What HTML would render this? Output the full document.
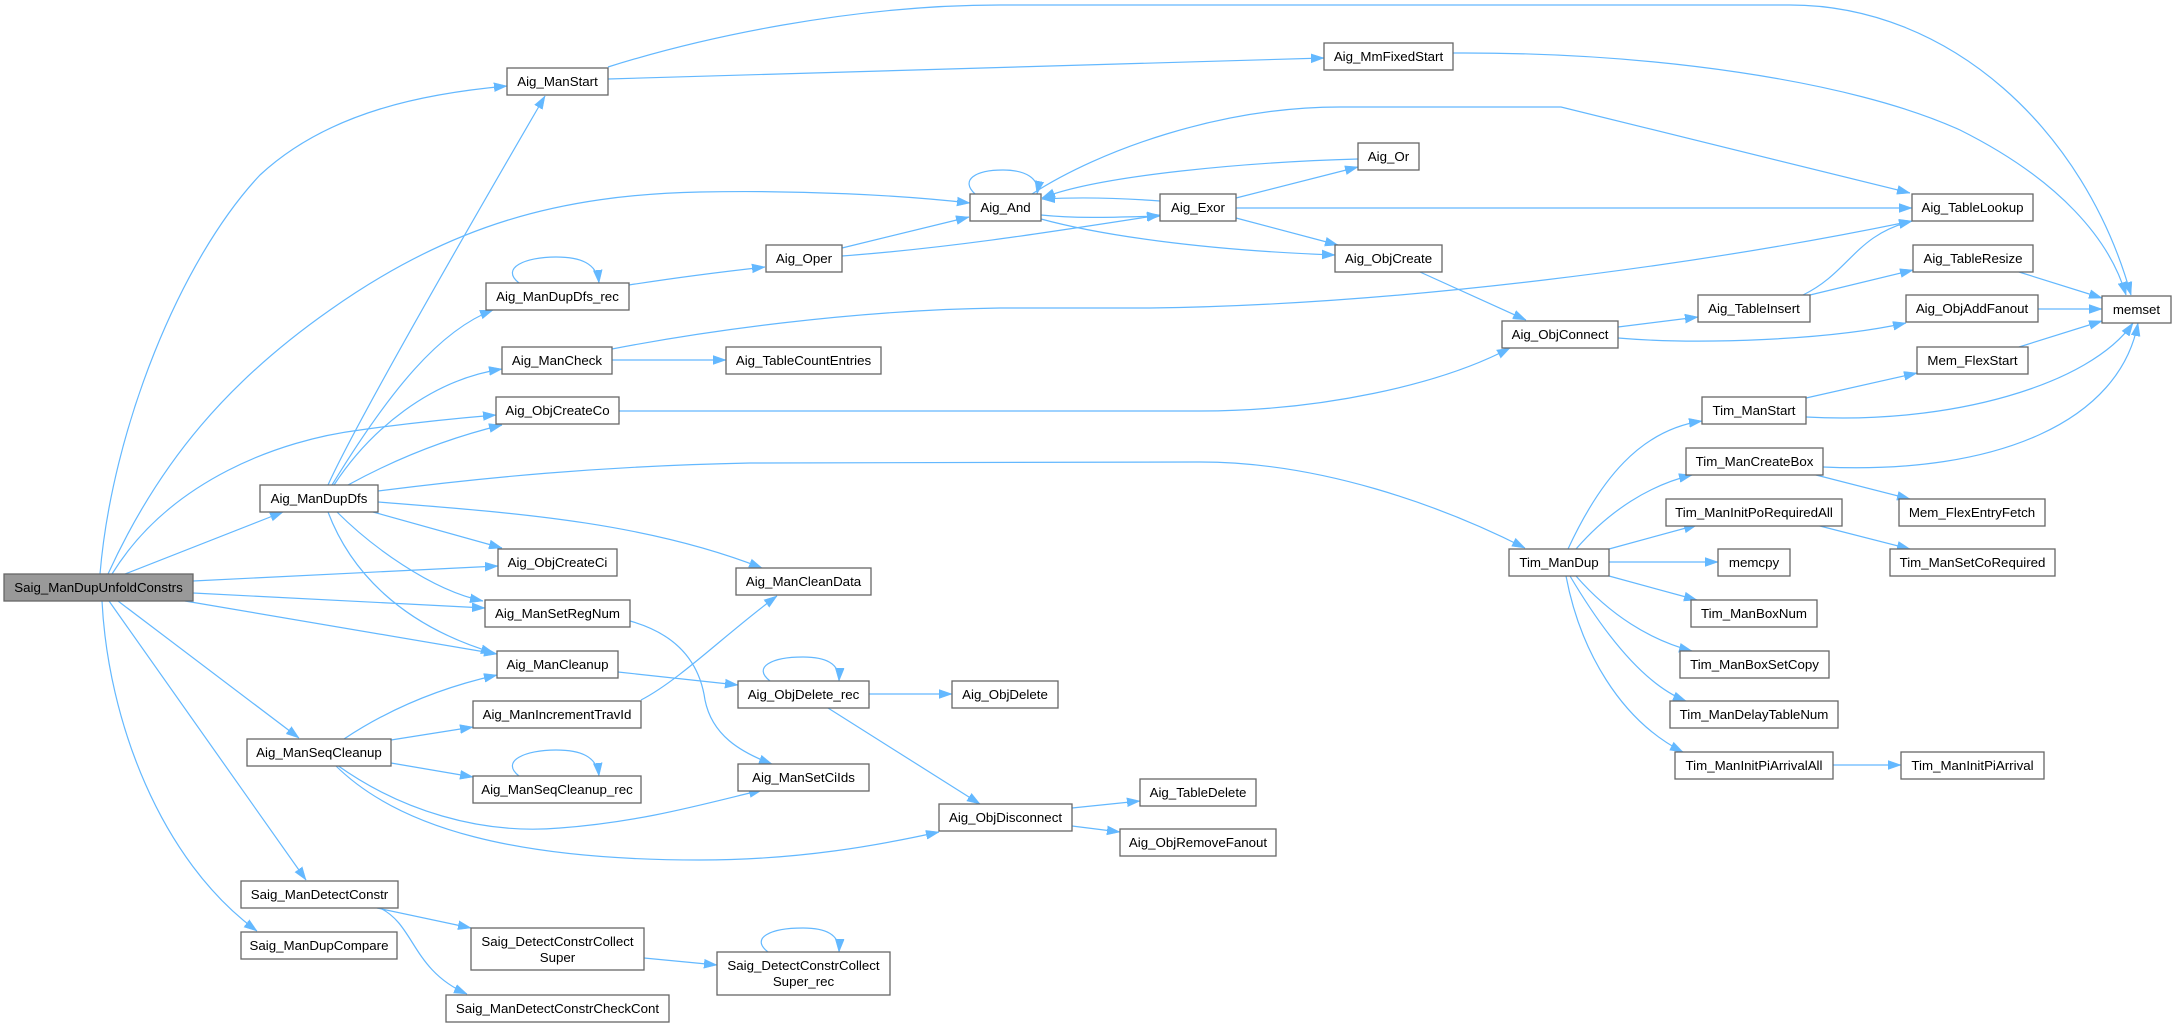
<!DOCTYPE html>
<html><head><meta charset="utf-8"><style>
html,body{margin:0;padding:0;background:#fff;}
svg{display:block;}
text{font-family:"Liberation Sans",Arial,sans-serif;font-size:13.3px;fill:#000;text-anchor:middle;}
.n{fill:#fff;stroke:#666;stroke-width:1.3;}
.r{fill:#999;stroke:#666;stroke-width:1.3;}
.e{fill:none;stroke:#63b8ff;stroke-width:1.2;marker-end:url(#a);}
</style></head><body>
<svg width="2176" height="1027" viewBox="0 0 2176 1027" xmlns="http://www.w3.org/2000/svg">
<defs><marker id="a" markerUnits="userSpaceOnUse" markerWidth="13" markerHeight="10" viewBox="0 0 13 10" refX="13" refY="5" orient="auto"><path d="M0,0.5 L13,5 L0,9.5 z" fill="#63b8ff" stroke="#63b8ff" stroke-width="0.5"/></marker></defs>
<g>
<!-- root edges -->
<path class="e" d="M100,574 C112,430 180,260 260,175 C330,110 430,93 507,86"/>
<path class="e" d="M108,574 C160,460 230,380 330,310 C450,225 560,195 700,192 C800,190 900,195 970,203"/>
<path class="e" d="M112,574 C170,480 280,440 360,430 C410,423 460,418 496,415"/>
<path class="e" d="M125,574 L283,512"/>
<path class="e" d="M193,581 L498,566"/>
<path class="e" d="M193,593 L485,608"/>
<path class="e" d="M185,601 L497,654"/>
<path class="e" d="M118,601 L299,738"/>
<path class="e" d="M109,601 L306,880"/>
<path class="e" d="M102,601 C108,720 160,860 257,931"/>
<!-- Aig_ManDupDfs edges -->
<path class="e" d="M328,485 C355,425 470,225 545,96"/>
<path class="e" d="M332,485 C390,390 440,330 493,310"/>
<path class="e" d="M334,485 C370,430 430,380 502,369"/>
<path class="e" d="M348,485 C390,462 440,440 502,425"/>
<path class="e" d="M378,491 C480,478 600,466 750,463 L1200,462 C1320,462 1440,505 1525,548"/>
<path class="e" d="M378,502 C500,512 640,520 762,568"/>
<path class="e" d="M373,512 L502,548"/>
<path class="e" d="M337,512 C370,545 430,590 483,601"/>
<path class="e" d="M328,512 C350,570 400,625 494,653"/>
<!-- Aig_ManStart -->
<path class="e" d="M608,67 C700,38 850,5 1000,5 L1790,5 C1950,5 2085,130 2131,295"/>
<path class="e" d="M608,79 C900,72 1150,62 1324,58"/>
<path class="e" d="M1453,53 C1650,52 1850,80 1960,130 C2060,180 2110,240 2126,295"/>
<!-- DupDfs_rec -->
<path class="e" d="M519,283 C500,268 525,257 556,257 C580,257 597,263 599,283"/>
<path class="e" d="M629,285 C680,277 720,272 765,267"/>
<!-- ManCheck -->
<path class="e" d="M612,349 C700,332 850,310 1000,308 L1150,308 C1400,305 1700,265 1912,221"/>
<path class="e" d="M612,360 L726,360"/>
<!-- ObjCreateCo -->
<path class="e" d="M619,411 L1200,411 C1320,411 1440,385 1510,348"/>
<!-- Oper -->
<path class="e" d="M842,248 L969,217"/>
<path class="e" d="M842,256 C950,248 1050,232 1160,215"/>
<!-- And -->
<path class="e" d="M975,194 C960,180 975,170 1003,170 C1025,170 1040,178 1037,194"/>
<path class="e" d="M1032,194 C1100,150 1220,107 1340,107 L1561,107 L1910,193"/>
<path class="e" d="M1041,215 C1080,219 1120,217 1160,216"/>
<path class="e" d="M1041,219 C1100,235 1200,250 1335,255"/>
<!-- Exor -->
<path class="e" d="M1160,201 C1120,198 1080,197 1042,199"/>
<path class="e" d="M1236,198 L1358,167"/>
<path class="e" d="M1236,208 L1912,208"/>
<path class="e" d="M1236,218 L1338,245"/>
<!-- Or -->
<path class="e" d="M1358,159 C1250,162 1100,175 1042,198"/>
<!-- ObjCreate -->
<path class="e" d="M1420,272 L1526,320"/>
<!-- ObjConnect -->
<path class="e" d="M1618,327 L1698,317"/>
<path class="e" d="M1618,338 C1700,345 1830,340 1906,323"/>
<!-- TableInsert -->
<path class="e" d="M1803,295 C1850,272 1855,235 1912,221"/>
<path class="e" d="M1810,295 L1913,270"/>
<!-- to memset -->
<path class="e" d="M2019,272 L2102,298"/>
<path class="e" d="M2038,309 L2102,309"/>
<path class="e" d="M2019,347 L2102,321"/>
<!-- Tim -->
<path class="e" d="M1806,398 L1917,373"/>
<path class="e" d="M1806,417 C1950,425 2090,385 2133,323"/>
<path class="e" d="M1823,467 C2000,475 2120,420 2138,323"/>
<path class="e" d="M1816,475 L1910,499"/>
<path class="e" d="M1816,525 L1910,549"/>
<path class="e" d="M1568,549 C1600,480 1640,430 1702,421"/>
<path class="e" d="M1576,549 C1610,510 1650,485 1692,475"/>
<path class="e" d="M1609,549 L1697,525"/>
<path class="e" d="M1609,562 L1718,562"/>
<path class="e" d="M1609,576 L1697,600"/>
<path class="e" d="M1576,576 C1610,615 1650,640 1692,651"/>
<path class="e" d="M1570,576 C1605,635 1645,685 1686,701"/>
<path class="e" d="M1566,576 C1580,650 1620,720 1683,752"/>
<path class="e" d="M1833,765 L1901,765"/>
<!-- SetRegNum -->
<path class="e" d="M630,621 C680,635 700,665 705,700 C712,735 740,752 772,764"/>
<!-- ManCleanup -->
<path class="e" d="M618,672 L738,685"/>
<!-- IncrementTravId -->
<path class="e" d="M641,700 C680,680 730,630 777,596"/>
<!-- SeqCleanup -->
<path class="e" d="M344,739 C380,715 430,690 497,675"/>
<path class="e" d="M391,740 L473,727"/>
<path class="e" d="M391,763 L473,777"/>
<path class="e" d="M519,776 C500,761 525,750 556,750 C580,750 597,756 599,776"/>
<path class="e" d="M337,765 C400,810 480,835 560,828 C640,822 700,805 762,790"/>
<path class="e" d="M335,765 C400,830 520,860 700,860 C800,860 880,845 939,832"/>
<!-- ObjDelete_rec -->
<path class="e" d="M770,681 C752,667 772,657 803,657 C825,657 840,663 839,681"/>
<path class="e" d="M869,694 L952,694"/>
<path class="e" d="M828,708 L980,804"/>
<!-- ObjDisconnect -->
<path class="e" d="M1072,808 L1140,801"/>
<path class="e" d="M1072,826 L1120,832"/>
<!-- DetectConstr -->
<path class="e" d="M377,908 L471,928"/>
<path class="e" d="M380,908 C415,925 412,970 467,994"/>
<path class="e" d="M644,958 L717,965"/>
<path class="e" d="M768,952 C750,938 770,928 803,928 C825,928 840,934 839,952"/>
</g>
<g>
<rect class="r" x="4" y="574" width="189" height="27"/><text x="98.5" y="592">Saig_ManDupUnfoldConstrs</text>
<rect class="n" x="507" y="68" width="101" height="27"/><text x="557.5" y="86">Aig_ManStart</text>
<rect class="n" x="1324" y="43" width="129" height="27"/><text x="1388.5" y="61">Aig_MmFixedStart</text>
<rect class="n" x="2102" y="296" width="69" height="27"/><text x="2136.5" y="314">memset</text>
<rect class="n" x="486" y="283" width="143" height="27"/><text x="557.5" y="301">Aig_ManDupDfs_rec</text>
<rect class="n" x="766" y="245" width="76" height="27"/><text x="804" y="263">Aig_Oper</text>
<rect class="n" x="970" y="194" width="71" height="27"/><text x="1005.5" y="212">Aig_And</text>
<rect class="n" x="1160" y="194" width="76" height="27"/><text x="1198" y="212">Aig_Exor</text>
<rect class="n" x="1358" y="143" width="61" height="27"/><text x="1388.5" y="161">Aig_Or</text>
<rect class="n" x="1335" y="245" width="107" height="27"/><text x="1388.5" y="263">Aig_ObjCreate</text>
<rect class="n" x="1912" y="194" width="121" height="27"/><text x="1972.5" y="212">Aig_TableLookup</text>
<rect class="n" x="1913" y="245" width="120" height="27"/><text x="1973" y="263">Aig_TableResize</text>
<rect class="n" x="1698" y="295" width="112" height="27"/><text x="1754" y="313">Aig_TableInsert</text>
<rect class="n" x="1906" y="295" width="132" height="27"/><text x="1972" y="313">Aig_ObjAddFanout</text>
<rect class="n" x="1502" y="321" width="116" height="27"/><text x="1560" y="339">Aig_ObjConnect</text>
<rect class="n" x="502" y="347" width="110" height="27"/><text x="557" y="365">Aig_ManCheck</text>
<rect class="n" x="726" y="347" width="155" height="27"/><text x="803.5" y="365">Aig_TableCountEntries</text>
<rect class="n" x="1917" y="347" width="111" height="27"/><text x="1972.5" y="365">Mem_FlexStart</text>
<rect class="n" x="496" y="397" width="123" height="27"/><text x="557.5" y="415">Aig_ObjCreateCo</text>
<rect class="n" x="1702" y="397" width="104" height="27"/><text x="1754" y="415">Tim_ManStart</text>
<rect class="n" x="1686" y="448" width="137" height="27"/><text x="1754.5" y="466">Tim_ManCreateBox</text>
<rect class="n" x="260" y="485" width="118" height="27"/><text x="319" y="503">Aig_ManDupDfs</text>
<rect class="n" x="1666" y="499" width="176" height="27"/><text x="1754" y="517">Tim_ManInitPoRequiredAll</text>
<rect class="n" x="1899" y="499" width="146" height="27"/><text x="1972" y="517">Mem_FlexEntryFetch</text>
<rect class="n" x="498" y="549" width="119" height="27"/><text x="557.5" y="567">Aig_ObjCreateCi</text>
<rect class="n" x="1509" y="549" width="100" height="27"/><text x="1559" y="567">Tim_ManDup</text>
<rect class="n" x="1718" y="549" width="72" height="27"/><text x="1754" y="567">memcpy</text>
<rect class="n" x="1890" y="549" width="165" height="27"/><text x="1972.5" y="567">Tim_ManSetCoRequired</text>
<rect class="n" x="736" y="568" width="135" height="27"/><text x="803.5" y="586">Aig_ManCleanData</text>
<rect class="n" x="485" y="600" width="145" height="27"/><text x="557.5" y="618">Aig_ManSetRegNum</text>
<rect class="n" x="1691" y="600" width="126" height="27"/><text x="1754" y="618">Tim_ManBoxNum</text>
<rect class="n" x="497" y="651" width="121" height="27"/><text x="557.5" y="669">Aig_ManCleanup</text>
<rect class="n" x="1680" y="651" width="149" height="27"/><text x="1754.5" y="669">Tim_ManBoxSetCopy</text>
<rect class="n" x="738" y="681" width="131" height="27"/><text x="803.5" y="699">Aig_ObjDelete_rec</text>
<rect class="n" x="952" y="681" width="106" height="27"/><text x="1005" y="699">Aig_ObjDelete</text>
<rect class="n" x="473" y="701" width="168" height="27"/><text x="557" y="719">Aig_ManIncrementTravId</text>
<rect class="n" x="1670" y="701" width="168" height="27"/><text x="1754" y="719">Tim_ManDelayTableNum</text>
<rect class="n" x="247" y="739" width="144" height="27"/><text x="319" y="757">Aig_ManSeqCleanup</text>
<rect class="n" x="1675" y="752" width="158" height="27"/><text x="1754" y="770">Tim_ManInitPiArrivalAll</text>
<rect class="n" x="1901" y="752" width="143" height="27"/><text x="1972.5" y="770">Tim_ManInitPiArrival</text>
<rect class="n" x="738" y="764" width="131" height="27"/><text x="803.5" y="782">Aig_ManSetCiIds</text>
<rect class="n" x="473" y="776" width="168" height="27"/><text x="557" y="794">Aig_ManSeqCleanup_rec</text>
<rect class="n" x="1140" y="779" width="116" height="27"/><text x="1198" y="797">Aig_TableDelete</text>
<rect class="n" x="939" y="804" width="133" height="27"/><text x="1005.5" y="822">Aig_ObjDisconnect</text>
<rect class="n" x="1120" y="829" width="156" height="27"/><text x="1198" y="847">Aig_ObjRemoveFanout</text>
<rect class="n" x="241" y="881" width="157" height="27"/><text x="319.5" y="899">Saig_ManDetectConstr</text>
<rect class="n" x="471" y="928" width="173" height="42"/><text x="557.5" y="946">Saig_DetectConstrCollect</text><text x="557.5" y="962">Super</text>
<rect class="n" x="241" y="932" width="156" height="27"/><text x="319" y="950">Saig_ManDupCompare</text>
<rect class="n" x="717" y="952" width="173" height="43"/><text x="803.5" y="970">Saig_DetectConstrCollect</text><text x="803.5" y="986">Super_rec</text>
<rect class="n" x="446" y="995" width="223" height="27"/><text x="557.5" y="1013">Saig_ManDetectConstrCheckCont</text>
</g>
</svg>
</body></html>
